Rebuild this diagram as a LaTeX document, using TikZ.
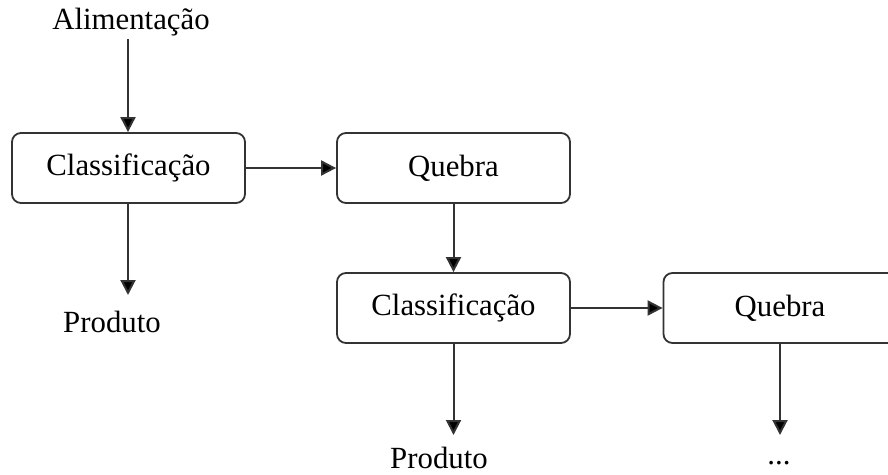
\documentclass[tikz,border=0pt]{standalone}
\usepackage{fontspec}
\setmainfont{Liberation Serif}
\usetikzlibrary{arrows.meta}
\begin{document}
\begin{tikzpicture}[x=1pt,y=-1pt,
  procbox/.style={draw=black!80, line width=1.8pt, rounded corners=9pt,
    minimum width=233pt, minimum height=70pt, inner sep=0pt,
    font=\fontsize{30.8}{36}\selectfont},
  lbl/.style={inner sep=0pt, font=\fontsize{30.8}{36}\selectfont},
  flow/.style={draw=black!80, line width=2pt,
    -{Triangle[length=15pt,width=15pt,fill=black]}}]
\useasboundingbox (0,0) rectangle (888,474);
\node[procbox] (c1) at (128.5,168) {Classificação};
\node[procbox] (q1) at (453.5,168) {Quebra};
\node[procbox] (c2) at (453.5,308) {Classificação};
\node[procbox] (q2) at (780,308) {Quebra};
\node[lbl] (alim) at (131,22) {Alimentação};
\node[lbl] (p1) at (112,322) {Produto};
\node[lbl] (p2) at (439,458) {Produto};
\node[lbl] (dots) at (779,463) {...};
\coordinate (a0) at (128,39);
\coordinate (p1t) at (128,295);
\coordinate (p2t) at (453.5,435);
\coordinate (dt) at (780,435);
\draw[flow] (a0) -- (c1.north -| a0);
\draw[flow] (c1.south -| p1t) -- (p1t);
\draw[flow] (c1.east) -- (q1.west);
\draw[flow] (q1.south) -- (c2.north);
\draw[flow] (c2.east) -- (q2.west);
\draw[flow] (c2.south) -- (p2t);
\draw[flow] (q2.south) -- (dt);
\end{tikzpicture}
\end{document}
